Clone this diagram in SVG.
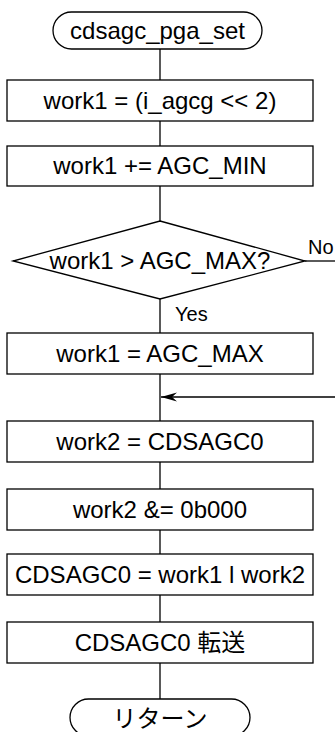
<svg xmlns="http://www.w3.org/2000/svg" width="335" height="732" viewBox="0 0 335 732">
<defs>
<style>
.s{fill:#fff;stroke:#000;stroke-width:1.3}
.t{font-family:"Liberation Sans",Arial,"Noto Sans CJK JP",sans-serif;font-size:24px;fill:#000;text-anchor:middle}
.l{font-family:"Liberation Sans",Arial,sans-serif;font-size:20px;fill:#000}
.c{fill:none;stroke:#000;stroke-width:1.3}
</style>
<marker id="ah" markerWidth="18" markerHeight="10" refX="16" refY="5" orient="auto" markerUnits="userSpaceOnUse">
<path d="M16,5 L0,0.5 L5,5 L0,9.5 Z" fill="#000"/>
</marker>
</defs>
<rect width="335" height="732" fill="#fff"/>
<g id="connectors">
<line class="c" x1="160" y1="49" x2="160" y2="80"/>
<line class="c" x1="160" y1="121" x2="160" y2="146"/>
<line class="c" x1="160" y1="186" x2="160" y2="221"/>
<line class="c" x1="160" y1="299" x2="160" y2="333"/>
<line class="c" x1="160" y1="374" x2="160" y2="421"/>
<line class="c" x1="305" y1="261" x2="335" y2="261"/>
<line class="c" x1="335" y1="397" x2="161" y2="397" marker-end="url(#ah)"/>
<line class="c" x1="160" y1="462" x2="160" y2="489"/>
<line class="c" x1="160" y1="530" x2="160" y2="554"/>
<line class="c" x1="160" y1="595" x2="160" y2="622"/>
<line class="c" x1="160" y1="663" x2="160" y2="699"/>
<text class="l" x="308" y="254">No</text>
<text class="l" x="175" y="321">Yes</text>
</g>
<g id="start"><rect class="s" x="53" y="12" width="209" height="37" rx="18.5"/><text class="t" x="157.5" y="39">cdsagc_pga_set</text></g>
<g id="box1"><rect class="s" x="7" y="80" width="306" height="41"/><text class="t" x="160" y="109">work1 = (i_agcg &lt;&lt; 2)</text></g>
<g id="box2"><rect class="s" x="7" y="146" width="306" height="40"/><text class="t" x="160" y="174">work1 += AGC_MIN</text></g>
<g id="decision"><polygon class="s" points="160,221 305,261 160,299 13,261"/><text class="t" x="160" y="269">work1 &gt; AGC_MAX?</text></g>
<g id="box3"><rect class="s" x="7" y="333" width="306" height="41"/><text class="t" x="160" y="362">work1 = AGC_MAX</text></g>
<g id="box4"><rect class="s" x="7" y="421" width="306" height="41"/><text class="t" x="160" y="450">work2 = CDSAGC0</text></g>
<g id="box5"><rect class="s" x="7" y="489" width="306" height="41"/><text class="t" x="160" y="518">work2 &amp;= 0b000</text></g>
<g id="box6"><rect class="s" x="7" y="554" width="306" height="41"/><text class="t" x="160" y="583">CDSAGC0 = work1 l work2</text></g>
<g id="box7"><rect class="s" x="7" y="622" width="306" height="41"/><text class="t" x="160" y="651">CDSAGC0 転送</text></g>
<g id="end"><rect class="s" x="70" y="699" width="180" height="37" rx="18.5"/><text class="t" x="160" y="727">リターン</text></g>
</svg>
